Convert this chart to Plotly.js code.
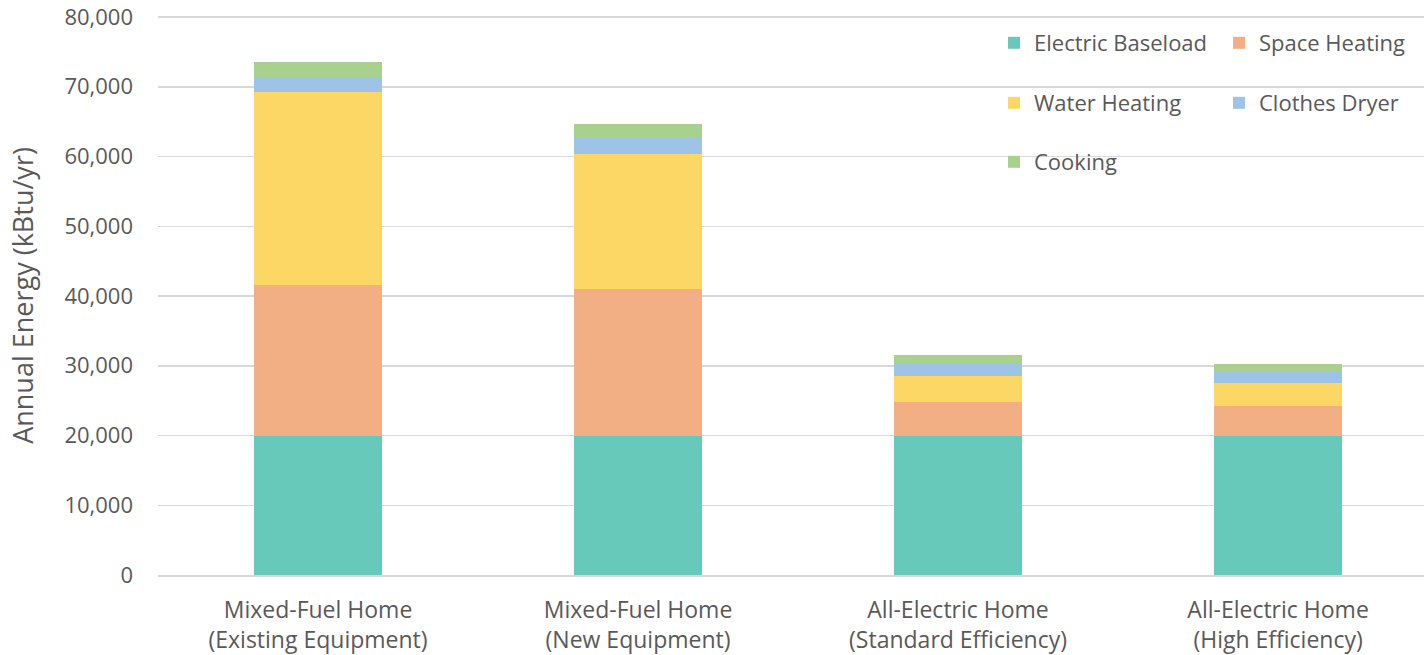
<!DOCTYPE html>
<html>
<head>
<meta charset="utf-8">
<script src="https://cdn.plot.ly/plotly-3.0.1.min.js"></script>
<style>html,body{margin:0;padding:0;background:#fff;}#chart{width:1424px;height:655px;}</style>
</head>
<body>
<div id="chart"></div>
<script>
const categories = [
  "Mixed-Fuel Home<br>(Existing Equipment)",
  "Mixed-Fuel Home<br>(New Equipment)",
  "All-Electric Home<br>(Standard Efficiency)",
  "All-Electric Home<br>(High Efficiency)"
];
const electricBaseload = [20000, 20000, 20000, 20000];
const spaceHeating = [21600, 21000, 4850, 4300];
const waterHeating = [27700, 19400, 3700, 3250];
const clothesDryer = [2150, 2200, 1850, 1550];
const cooking = [2050, 2050, 1100, 1150];

const seriesNames = ["Electric Baseload", "Space Heating", "Water Heating", "Clothes Dryer", "Cooking"];
const seriesValues = [electricBaseload, spaceHeating, waterHeating, clothesDryer, cooking];
const colors = ["#66C9B9", "#F2AF84", "#FDD766", "#9DC3E6", "#A9D18E"];
const legendIds = ["legend", "legend2", "legend3", "legend4", "legend5"];

const xIdx = categories.map((c, i) => i);
const traces = seriesNames.map((n, k) => ({
  type: "bar",
  name: n,
  x: xIdx,
  y: seriesValues[k],
  marker: {color: colors[k], line: {width: 0}},
  legend: legendIds[k],
  hoverinfo: "name+y"
}));

const fontFam = "'Open Sans', 'Noto Sans', sans-serif";
const txtColor = "#595959";
const legendBase = {
  orientation: "v",
  xref: "paper", yref: "paper",
  xanchor: "left", yanchor: "middle",
  font: {family: fontFam, size: 22, color: txtColor},
  bgcolor: "rgba(0,0,0,0)",
  borderwidth: 0,
  itemclick: false, itemdoubleclick: false
};
const T = 16, B = 80, L = 158;
const H = 655 - T - B;
const W = 1424 - L;
function ly(py) { return (575 - py) / H; }
function lx(px) { return (px - L) / W; }
const col1 = 994, col2 = 1219;

const layout = {
  width: 1424, height: 655,
  margin: {l: L, r: 0, t: T, b: B},
  paper_bgcolor: "#fff", plot_bgcolor: "#fff",
  barmode: "stack",
  bargap: 0.6,
  font: {family: fontFam, color: txtColor},
  xaxis: {
    tickmode: "array", tickvals: xIdx, ticktext: categories,
    range: [-0.5, 3.456],
    showgrid: false, zeroline: false,
    showline: true, linecolor: "#D9D9D9", linewidth: 1.5,
    ticks: "",
    ticklabelstandoff: 14,
    tickfont: {family: fontFam, size: 23, color: txtColor},
    fixedrange: true
  },
  yaxis: {
    range: [0, 80150], tickvals: [0,10000,20000,30000,40000,50000,60000,70000,80000], tickformat: ",d",
    showgrid: true, gridcolor: "#D9D9D9", gridwidth: 1.5,
    zeroline: false, showline: false, ticks: "",
    ticklabelstandoff: 24,
    tickfont: {family: fontFam, size: 22, color: txtColor},
    title: {text: "Annual Energy (kBtu/yr)", font: {family: fontFam, size: 27, color: txtColor}, standoff: 22},
    fixedrange: true
  },
  showlegend: true,
  legend: Object.assign({}, legendBase, {x: lx(col1), y: ly(43)}),
  legend2: Object.assign({}, legendBase, {x: lx(col2), y: ly(43)}),
  legend3: Object.assign({}, legendBase, {x: lx(col1), y: ly(103)}),
  legend4: Object.assign({}, legendBase, {x: lx(col2), y: ly(103)}),
  legend5: Object.assign({}, legendBase, {x: lx(col1), y: ly(162)})
};

Plotly.newPlot("chart", traces, layout, {displayModeBar: false, staticPlot: true});
</script>
</body>
</html>
